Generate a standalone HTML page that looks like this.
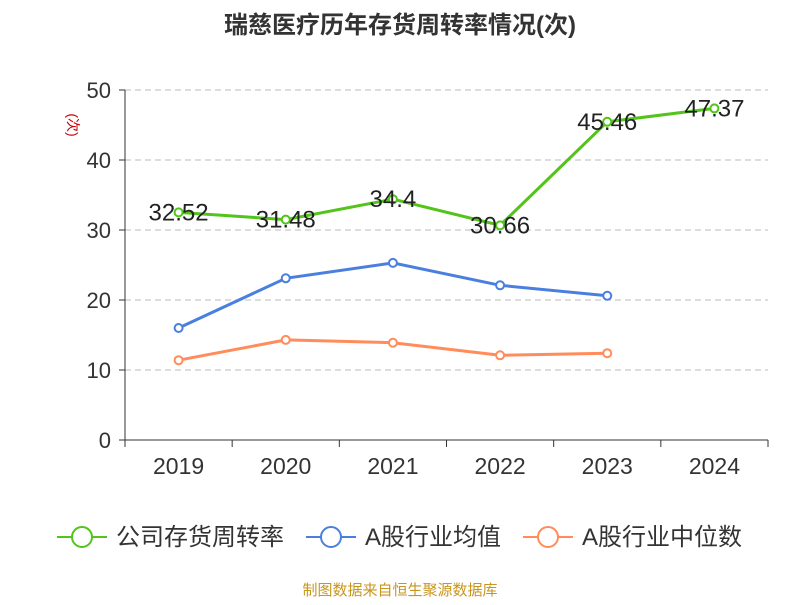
<!DOCTYPE html>
<html><head><meta charset="utf-8"><style>
body{margin:0;background:#fff;font-family:"Liberation Sans","Noto Sans CJK SC",sans-serif}
</style></head><body>
<svg id="c" width="800" height="600" xmlns="http://www.w3.org/2000/svg" font-family="Liberation Sans, Noto Sans CJK SC, sans-serif">
<text x="400" y="33" text-anchor="middle" font-size="24" font-weight="bold" fill="#333">瑞慈医疗历年存货周转率情况(次)</text>
<text x="68" y="125" font-size="14" fill="#c00" transform="rotate(90 68 125)" text-anchor="middle">(次)</text>
<g id="grid"></g><g id="axes"></g><g id="series"></g>
<g>
<g><line x1="57" y1="537" x2="107" y2="537" stroke="#52c41a" stroke-width="2"/><circle cx="82" cy="537" r="10" fill="#fff" stroke="#52c41a" stroke-width="2"/><text x="116" y="545" font-size="24" fill="#333">公司存货周转率</text></g>
<g><line x1="306" y1="537" x2="356" y2="537" stroke="#4a7fe0" stroke-width="2"/><circle cx="331" cy="537" r="10" fill="#fff" stroke="#4a7fe0" stroke-width="2"/><text x="365" y="545" font-size="24" fill="#333">A股行业均值</text></g>
<g><line x1="523" y1="537" x2="573" y2="537" stroke="#ff8c5a" stroke-width="2"/><circle cx="548" cy="537" r="10" fill="#fff" stroke="#ff8c5a" stroke-width="2"/><text x="582" y="545" font-size="24" fill="#333">A股行业中位数</text></g>
</g>
<text x="400" y="595" text-anchor="middle" font-size="15" fill="#c8961e">制图数据来自恒生聚源数据库</text>
</svg>
<script>
const categories=["2019","2020","2021","2022","2023","2024"];
const companyValues=[32.52,31.48,34.4,30.66,45.46,47.37];
const avgValues=[16.0,23.1,25.3,22.1,20.6,null];
const medianValues=[11.4,14.3,13.9,12.1,12.4,null];
const yTicks=[0,10,20,30,40,50];
const NS="http://www.w3.org/2000/svg";
const L=125,R=768,T=90,B=440,maxV=50;
const bw=(R-L)/categories.length;
const xs=i=>L+bw*(i+0.5);
const ys=v=>B-(v/maxV)*(B-T);
function mk(t,a,p){const e=document.createElementNS(NS,t);for(const k in a)e.setAttribute(k,a[k]);p.appendChild(e);return e;}
const grid=document.getElementById('grid'),axes=document.getElementById('axes'),ser=document.getElementById('series');
yTicks.forEach(v=>{
 if(v>0){const g=mk('line',{x1:L,x2:R,y1:ys(v),y2:ys(v),stroke:'#bbb','stroke-dasharray':'6,4'},grid);
 }
 mk('line',{x1:L-6,x2:L,y1:ys(v),y2:ys(v),stroke:'#333'},axes);
 const t=mk('text',{x:L-14,y:ys(v)+8,'text-anchor':'end','font-size':'22',fill:'#333'},axes);t.textContent=v;
 
});
mk('line',{x1:L,x2:L,y1:T,y2:B,stroke:'#333'},axes);
mk('line',{x1:L,x2:R,y1:B,y2:B,stroke:'#333'},axes);
for(let i=0;i<=categories.length;i++)mk('line',{x1:L+bw*i,x2:L+bw*i,y1:B,y2:B+7,stroke:'#333'},axes);
categories.forEach((c,i)=>{const t=mk('text',{x:xs(i),y:474,'text-anchor':'middle','font-size':'23',fill:'#333'},axes);t.textContent=c;
 });
function draw(vals,color,name,labels){
 const pts=vals.map((v,i)=>v==null?null:[xs(i),ys(v)]).filter(p=>p);
 const pl=mk('polyline',{points:pts.map(p=>p.join(',')).join(' '),fill:'none',stroke:color,'stroke-width':3},ser);
 
 vals.forEach((v,i)=>{if(v==null)return;
  const c=mk('circle',{cx:xs(i),cy:ys(v),r:4,fill:'#fff',stroke:color,'stroke-width':2},ser);
  
  if(labels){const t=mk('text',{x:xs(i),y:ys(v)+8,'text-anchor':'middle','font-size':'24',fill:'#222'},ser);t.textContent=v;
   }
 });
}
draw(medianValues,'#ff8c5a','industry-median',false);
draw(avgValues,'#4a7fe0','industry-average',false);
draw(companyValues,'#52c41a','company',true);
</script>
</body></html>
